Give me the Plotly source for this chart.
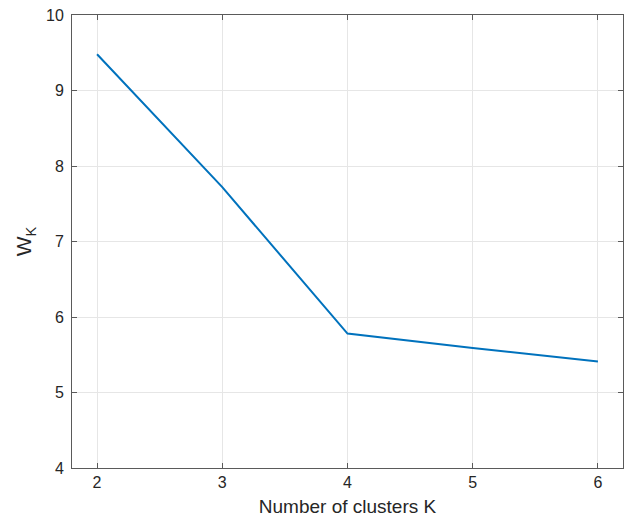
import plotly.graph_objects as go

k_values = [2, 3, 4, 5, 6]
w_values = [9.48, 7.72, 5.78, 5.59, 5.41]
x_ticks = [2, 3, 4, 5, 6]
y_ticks = [4, 5, 6, 7, 8, 9, 10]

fig = go.Figure()
fig.add_trace(go.Scatter(x=k_values, y=w_values, mode="lines",
                         line=dict(color="#0072BD", width=2), showlegend=False))

font_family = "Liberation Sans, Arial"
axis_common = dict(showline=True, linecolor="#5a5a5a", linewidth=1, mirror="ticks",
                   ticks="inside", ticklen=5, tickcolor="#5a5a5a",
                   showgrid=True, gridcolor="#E6E6E6", gridwidth=1, zeroline=False,
                   tickfont=dict(family=font_family, size=16, color="#262626"))

fig.update_xaxes(range=[1.8, 6.2], tickvals=x_ticks,
                 title=dict(text="Number of clusters K", font=dict(family=font_family, size=19, color="#262626"), standoff=9),
                 **axis_common)
fig.update_yaxes(range=[4, 10], tickvals=y_ticks, ticklabelstandoff=4,
                 title=dict(text="W<sub>K</sub>", font=dict(family=font_family, size=21, color="#262626"), standoff=8),
                 **axis_common)

fig.update_layout(width=631, height=522, plot_bgcolor="white", paper_bgcolor="white",
                  margin=dict(l=72, r=7, t=13, b=54))

fig.write_html("out.html")
